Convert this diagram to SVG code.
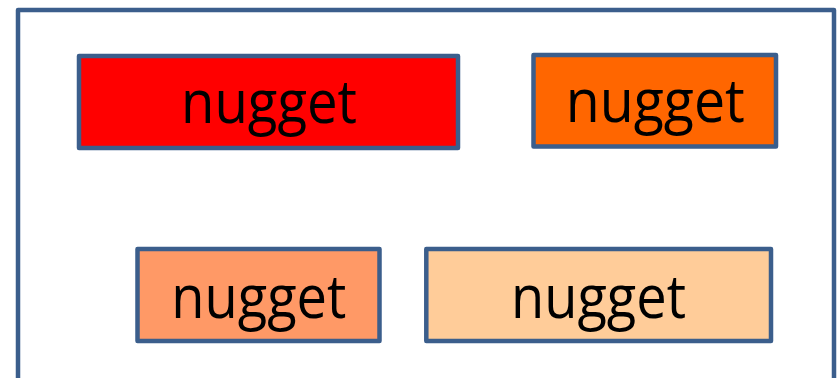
<svg xmlns="http://www.w3.org/2000/svg" width="838" height="378" viewBox="0 0 838 378">
<style>
.box{stroke:#3B5E8C;stroke-width:4.5;stroke-linejoin:round}
.lbl{font-family:"Open Sans","Liberation Sans",sans-serif;font-size:60px;fill:#000;text-anchor:middle}
</style>
<rect x="0" y="0" width="838" height="378" fill="#ffffff"/>
<g id="container">
<rect class="box" x="18" y="10" width="816" height="400" fill="#ffffff"/>
</g>
<g id="nugget1">
<rect class="box" x="79" y="56" width="379" height="92" fill="#FF0000"/>
<text class="lbl" x="269" y="123.3" textLength="176" lengthAdjust="spacingAndGlyphs">nugget</text>
</g>
<g id="nugget2">
<rect class="box" x="533.5" y="55" width="242.5" height="91.5" fill="#FF6600"/>
<text class="lbl" x="655.3" y="121.7" textLength="179" lengthAdjust="spacingAndGlyphs">nugget</text>
</g>
<g id="nugget3">
<rect class="box" x="137.5" y="249" width="242" height="92" fill="#FF9966"/>
<text class="lbl" x="258.8" y="318.3" textLength="175" lengthAdjust="spacingAndGlyphs">nugget</text>
</g>
<g id="nugget4">
<rect class="box" x="426.3" y="249" width="344.7" height="92" fill="#FFCC99"/>
<text class="lbl" x="598.5" y="318.3" textLength="175" lengthAdjust="spacingAndGlyphs">nugget</text>
</g>
<g id="connectors"></g>
</svg>
